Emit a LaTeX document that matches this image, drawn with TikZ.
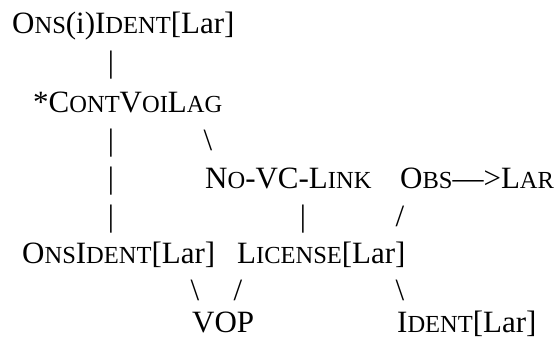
\documentclass[tikz,border=0pt]{standalone}
\usepackage{fontspec}
\setmainfont{Liberation Serif}
\newcommand\sk[1]{{\fontsize{24.5pt}{30pt}\selectfont #1}}
\begin{document}
\begin{tikzpicture}[x=1pt,y=-1pt,
  lab/.style={anchor=base west,inner sep=0pt,font=\fontsize{31pt}{38pt}\selectfont},
  bar/.style={anchor=base,inner sep=0pt,font=\fontsize{31pt}{38pt}\selectfont}]
\useasboundingbox (0,0) rectangle (558,341);
\node[lab] (r1) at (12,33) {O\sk{NS}(i)I\sk{DENT}[Lar]};
\node[bar] (b1) at (111,72) {|};
\node[lab] (r3) at (33,112) {*C\sk{ONT}V\sk{OI}L\sk{AG}};
\node[bar] (b2) at (111,150) {|};
\node[bar] (s1) at (208,150) {\textbackslash};
\node[bar] (b3) at (111,188) {|};
\node[lab] (nvc) at (205,188) {N\sk{O}-VC-L\sk{INK}};
\node[lab] (obs) at (400,188) {O\sk{BS}—>L\sk{AR}};
\node[bar] (b4) at (111,226) {|};
\node[bar] (b5) at (303,226) {|};
\node[bar] (s2) at (400,226) {/};
\node[lab] (oi) at (22,263) {O\sk{NS}I\sk{DENT}[Lar]};
\node[lab] (lic) at (237,263) {L\sk{ICENSE}[Lar]};
\node[bar] (s3) at (195,300) {\textbackslash};
\node[bar] (s4) at (238,300) {/};
\node[bar] (s5) at (400,300) {\textbackslash};
\node[lab] (vop) at (192,332) {VOP};
\node[lab] (id) at (397,332) {I\sk{DENT}[Lar]};
\end{tikzpicture}
\end{document}
